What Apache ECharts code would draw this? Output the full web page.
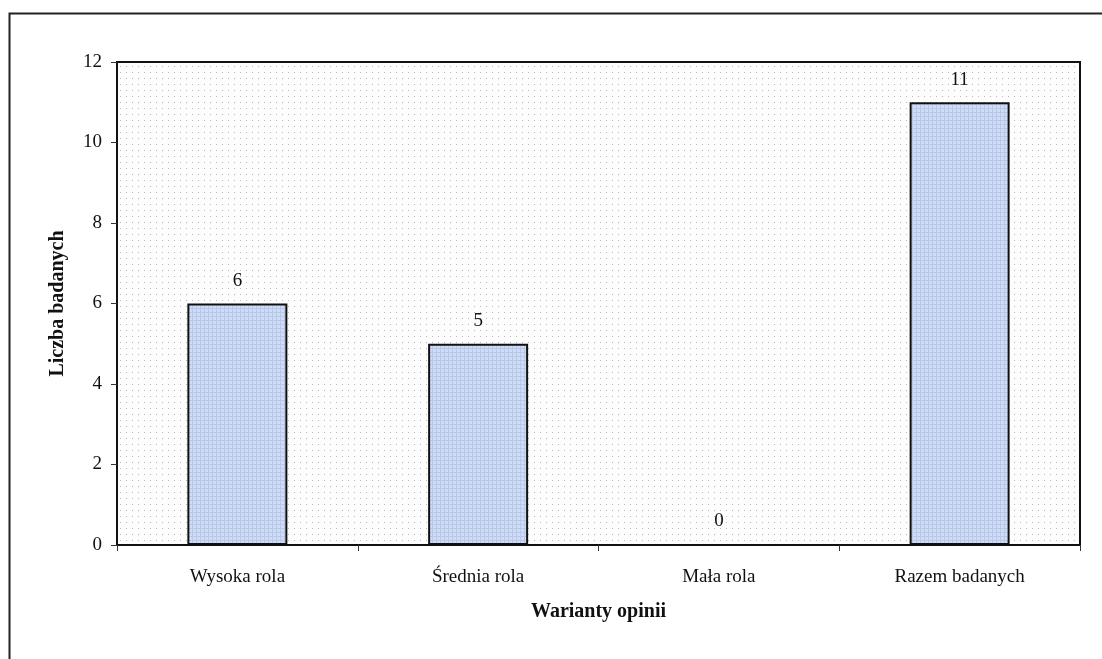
<!DOCTYPE html>
<html><head><meta charset="utf-8">
<script src="https://cdn.jsdelivr.net/npm/echarts@6/dist/echarts.min.js"></script>
<style>html,body{margin:0;padding:0;background:#fff}#c{width:1102px;height:659px}</style>
</head><body><div id="c"></div>
<script>
const categories = ['Wysoka rola', 'Średnia rola', 'Mała rola', 'Razem badanych'];
const values = [6, 5, 0, 11];
const yTicks = [0, 2, 4, 6, 8, 10, 12];

function dotPattern(size, color) {
  const c = document.createElement('canvas');
  c.width = size; c.height = size;
  const g = c.getContext('2d');
  g.fillStyle = '#fdfdfd'; g.fillRect(0, 0, size, size);
  g.fillStyle = color; g.fillRect(0, 0, 1, 1);
  return c;
}
function barPattern() {
  const c = document.createElement('canvas');
  c.width = 4; c.height = 4;
  const g = c.getContext('2d');
  g.fillStyle = '#cfdcf3'; g.fillRect(0, 0, 4, 4);
  g.fillStyle = '#b6c9ec'; g.fillRect(0, 0, 4, 1); g.fillRect(0, 0, 1, 4);
  return c;
}

const chart = echarts.init(document.getElementById('c'));
const font = 'Liberation Serif';
chart.setOption({
  backgroundColor: '#fff',
  animation: false,
  textStyle: { fontFamily: font },
  graphic: [{
    type: 'rect', left: 7, top: 11,
    shape: { width: 1110, height: 660 },
    style: { fill: 'none', stroke: '#222', lineWidth: 2 }, z: -1, silent: true
  }],
  grid: {
    left: 117, top: 62, width: 963, height: 483,
    show: true, borderColor: '#111', borderWidth: 2,
    backgroundColor: { image: dotPattern(6, '#b8b8b8'), repeat: 'repeat' }
  },
  xAxis: {
    type: 'category', data: categories,
    name: 'Warianty opinii', nameLocation: 'middle', nameGap: 57,
    nameTextStyle: { fontFamily: font, fontSize: 20, fontWeight: 'bold', color: '#111' },
    axisLine: { lineStyle: { color: '#111', width: 2 } },
    axisTick: { show: true, alignWithLabel: false, length: 6, lineStyle: { color: '#333' } },
    axisLabel: { fontFamily: font, fontSize: 19, color: '#111', margin: 23 },
    splitLine: { show: false }
  },
  yAxis: {
    type: 'value', min: 0, max: 12, interval: 2,
    name: 'Liczba badanych', nameLocation: 'middle', nameGap: 49,
    nameTextStyle: { fontFamily: font, fontSize: 20, fontWeight: 'bold', color: '#111' },
    axisLine: { show: true, lineStyle: { color: '#111', width: 2 } },
    axisTick: { show: true, length: 6, lineStyle: { color: '#333' } },
    axisLabel: { fontFamily: font, fontSize: 19, color: '#111', margin: 15 },
    splitLine: { show: false }
  },
  series: [{
    type: 'bar', data: values, barWidth: 100,
    itemStyle: { color: { image: barPattern(), repeat: 'repeat' }, borderColor: '#111', borderWidth: 2 },
    label: { show: true, position: 'top', distance: 13, fontFamily: font, fontSize: 19, color: '#111' }
  }]
});
</script></body></html>
